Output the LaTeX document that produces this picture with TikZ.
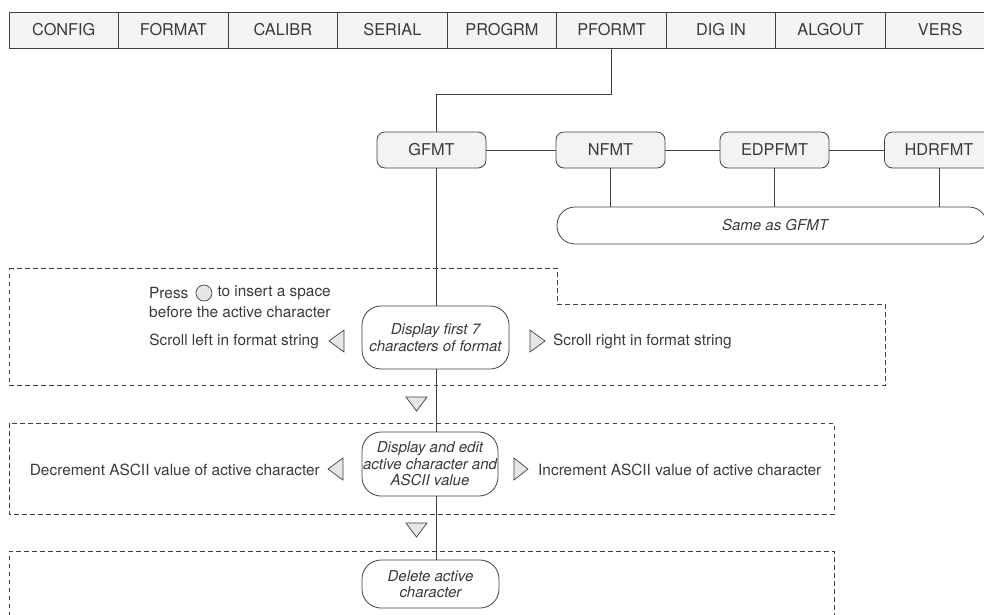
\documentclass[tikz,border=0pt]{standalone}
\usepackage{fontspec}
\setmainfont{TeX Gyre Heros}
\usetikzlibrary{positioning}
\definecolor{ink}{HTML}{3A3A3A}
\definecolor{edge}{HTML}{404040}
\definecolor{tabfill}{HTML}{F4F4F4}
\definecolor{boxfill}{HTML}{F3F3F3}
\definecolor{trifill}{HTML}{E6E6E8}
\begin{document}
\begin{tikzpicture}[x=1pt,y=-1pt,
  tab/.style={draw=edge, fill=tabfill, minimum width=109.55pt, minimum height=36pt, inner sep=0pt,
    font=\fontsize{16.3}{18}\selectfont, text=ink, line width=0.8pt},
  menubox/.style={draw=edge, fill=boxfill, rounded corners=8pt, minimum width=109pt, minimum height=36pt,
    inner sep=0pt, font=\fontsize{16.3}{18}\selectfont, text=ink, line width=0.8pt},
  stepbox/.style={draw=edge, fill=white, rounded corners=19pt, inner sep=0pt, align=center,
    font=\fontsize{15}{16.5}\selectfont\itshape, text=ink, line width=0.8pt},
  txt/.style={inner sep=0pt, font=\fontsize{15.4}{18}\selectfont, text=ink},
  link/.style={draw=edge, line width=0.8pt},
  zone/.style={draw=edge, line width=0.7pt, dash pattern=on 4.5pt off 3.5pt},
  arrowtri/.style={draw=edge, fill=trifill, line width=0.7pt, line join=miter}
]
\useasboundingbox (0,0) rectangle (984,614);

% dashed groupings
\draw[zone] (9,268) -- (557,268) -- (557,304) -- (885,304) -- (885,385) -- (9,385) -- cycle;
\draw[zone] (9,423) rectangle (834,514);
\draw[zone] (9,640) -- (9,551) -- (834,551) -- (834,640);

% menu bar
\foreach \lbl [count=\i from 0] in {CONFIG,FORMAT,CALIBR,SERIAL,PROGRM,PFORMT,DIG IN,ALGOUT,VERS}
  \node[tab] (tab\i) at ({9+109.55*(\i+0.5)},30) {\lbl};

% format submenu
\node[menubox] (gfmt)   at (431.5,150) {GFMT};
\node[menubox] (nfmt)   at (610.5,150) {NFMT};
\node[menubox] (edpfmt) at (774.5,150) {EDPFMT};
\node[menubox] (hdrfmt) at (939,150)   {HDRFMT};
\node[draw=edge, fill=white, rounded corners=18pt, minimum width=430pt, minimum height=37pt,
      inner sep=0pt, font=\fontsize{15}{18}\selectfont\itshape, text=ink, line width=0.8pt]
      (same) at (772,225.5) {\hspace{6pt}Same as GFMT};

% editing steps
\node[stepbox, minimum width=147pt, minimum height=63pt] (disp1) at (435.5,337.5)
  {Display first 7\\characters of format};
\node[stepbox, minimum width=136pt, minimum height=64pt] (disp2) at (430,464)
  {Display and edit\\active character and\\ASCII value};
\node[stepbox, minimum width=137pt, minimum height=48pt] (del) at (430.5,584)
  {Delete active\\character};

% connectors
\coordinate (spine) at (436.5,94);
\draw[link] (tab5.south) |- (spine) -- (spine |- gfmt.north);
\draw[link] (spine |- gfmt.south) -- (spine |- disp1.north);
\draw[link] (spine |- disp1.south) -- (spine |- disp2.north);
\draw[link] (spine |- disp2.south) -- (spine |- del.north);
\draw[link] (gfmt) -- (nfmt);
\draw[link] (nfmt) -- (edpfmt);
\draw[link] (edpfmt) -- (hdrfmt);
\draw[link] (nfmt.south) -- (nfmt.south |- same.north);
\draw[link] (edpfmt.south) -- (edpfmt.south |- same.north);
\draw[link] (hdrfmt.south) -- (hdrfmt.south |- same.north);

% key labels
\node[txt, anchor=west] (press) at (149,293) {Press};
\node[draw=edge, fill=trifill, circle, minimum size=16pt, inner sep=0pt, line width=0.7pt,
      right=7pt of press] (btn) {};
\node[txt, right=5pt of btn] (press2) {to insert a space};
\node[txt, anchor=west] (before) at (149,312) {before the active character};
\node[txt, anchor=east] (sleft) at (319,341) {Scroll left in format string};
\node[txt, anchor=west] (sright) at (553,341) {Scroll right in format string};
\node[txt, anchor=east] (dec) at (320,470) {Decrement ASCII value of active character};
\node[txt, anchor=west] (inc) at (538,470) {Increment ASCII value of active character};

% key triangles
\draw[arrowtri] (329,341) -- (344,330) -- (344,352) -- cycle;
\draw[arrowtri] (545,341) -- (530,330) -- (530,352) -- cycle;
\draw[arrowtri] (328,469) -- (343,458) -- (343,480) -- cycle;
\draw[arrowtri] (528,469) -- (514,458) -- (514,480) -- cycle;
\draw[arrowtri] (406,397) -- (427,397) -- (416.5,411) -- cycle;
\draw[arrowtri] (406,523) -- (427,523) -- (416.5,537) -- cycle;
\end{tikzpicture}
\end{document}
